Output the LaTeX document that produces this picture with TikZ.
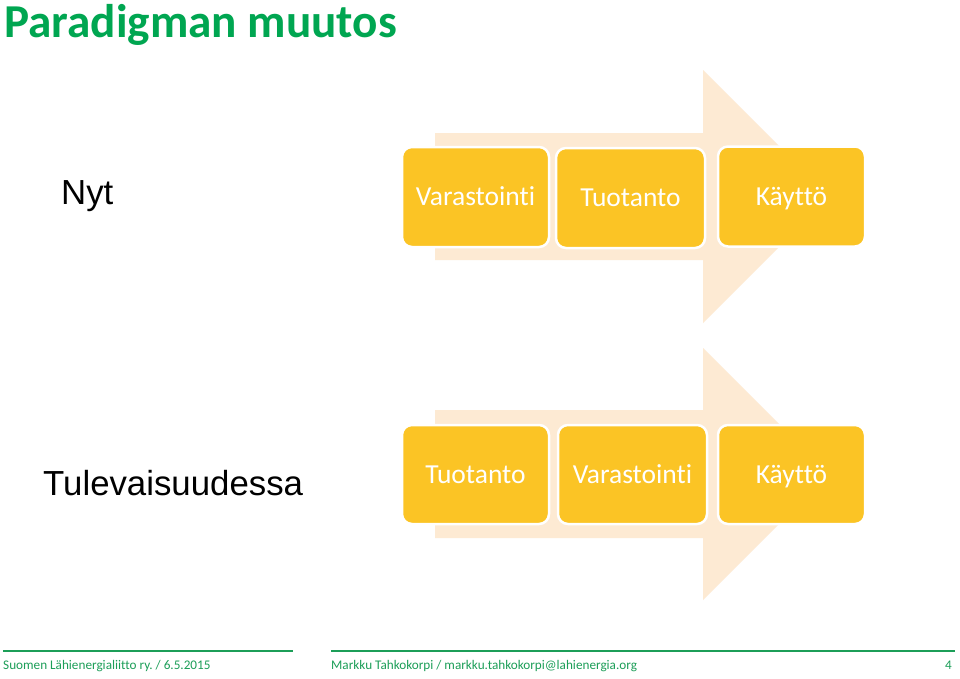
\documentclass[tikz,border=0pt]{standalone}
\usepackage{fontspec}
\setmainfont{Carlito}[Ligatures=NoCommon]
\newfontfamily\arialfont{Liberation Sans}
\frenchspacing
\definecolor{titlegreen}{RGB}{0,166,81}
\definecolor{footgreen}{RGB}{28,158,88}
\definecolor{boxgold}{RGB}{251,196,37}
\definecolor{peach}{RGB}{253,234,211}
\tikzset{
  stagebox/.style={draw=white, line width=2.5pt, fill=boxgold, rounded corners=10pt,
    minimum height=#1, text=white, font=\fontsize{27.5}{32}\selectfont, inner sep=0pt,
    text height=17.6pt, text depth=0pt},
  bigarrow/.style={fill=peach, draw=none},
  sidelabel/.style={anchor=base west, inner sep=0pt, font=\arialfont\fontsize{34.8}{40}\selectfont},
  foottext/.style={inner sep=0pt, text=footgreen, font=\fontsize{13.2}{16}\selectfont},
  footline/.style={draw=footgreen, line width=1.3pt}
}
\begin{document}
\begin{tikzpicture}[x=1pt,y=-1pt]
\useasboundingbox (0,0) rectangle (960,678);
\fill[white] (0,0) rectangle (960,678);
% title
\node[anchor=base west, inner sep=0pt, text=titlegreen, font=\bfseries\fontsize{47.2}{52}\selectfont] (title) at (4,37) {Paradigman muutos};
% arrows
\fill[bigarrow] (435,133) -- (703,133) -- (703,70) -- (829.5,196.5) -- (703,323) -- (703,260) -- (435,260) -- cycle;
\fill[bigarrow] (435,410) -- (703,410) -- (703,348) -- (829,474) -- (703,600) -- (703,538) -- (435,538) -- cycle;
% side labels
\node[sidelabel] (nyt) at (61,204) {Nyt};
\node[sidelabel] (tul) at (43,495) {Tulevaisuudessa};
% row 1
\node[stagebox=100pt, minimum width=147pt] (a1) at (475.5,197) {Varastointi};
\node[stagebox=100pt, minimum width=149pt] (a2) at (630.5,198) {Tuotanto};
\node[stagebox=100pt, minimum width=147pt] (a3) at (791.5,196.5) {Käyttö};
% row 2
\node[stagebox=99pt, minimum width=147pt] (b1) at (475.5,474.5) {Tuotanto};
\node[stagebox=99pt, minimum width=149pt] (b2) at (632.5,474.5) {Varastointi};
\node[stagebox=99pt, minimum width=147pt] (b3) at (791.5,474.5) {Käyttö};
% footer
\coordinate (l1) at (3,651);
\coordinate (l2) at (293,651);
\coordinate (r1) at (331,651);
\coordinate (r2) at (955,651);
\draw[footline] (l1) -- (l2);
\draw[footline] (r1) -- (r2);
\node[foottext, anchor=base west] (f1) at (3,669) {Suomen Lähienergialiitto ry. / 6.5.2015};
\node[foottext, anchor=base west] (f2) at (331,669) {Markku Tahkokorpi / markku.tahkokorpi@lahienergia.org};
\node[foottext, anchor=base east] (f3) at (952,669) {4};
\end{tikzpicture}
\end{document}
